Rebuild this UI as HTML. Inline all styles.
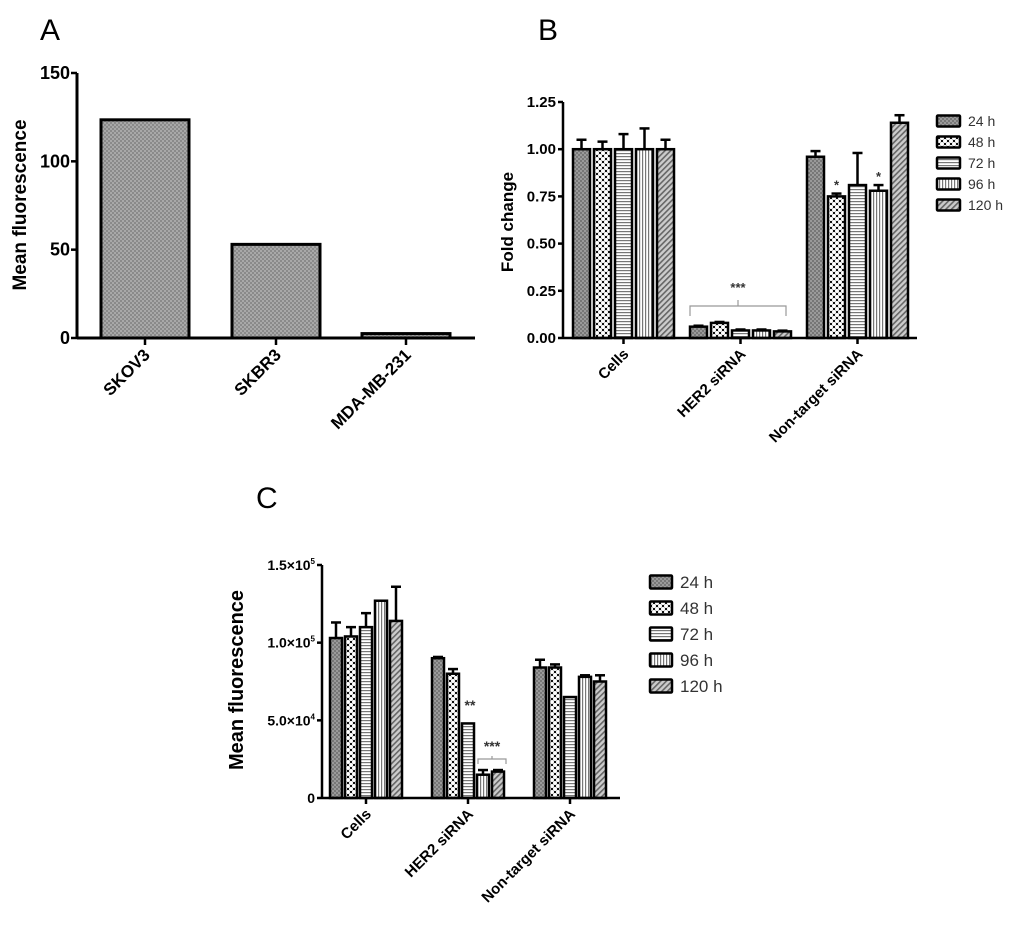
<!DOCTYPE html>
<html><head><meta charset="utf-8"><style>
html,body{margin:0;padding:0;background:#fff;}
svg{display:block;font-family:"Liberation Sans",Arial,sans-serif;}
</style></head><body>
<svg id="fig" width="1024" height="938" viewBox="0 0 1024 938" xmlns="http://www.w3.org/2000/svg">
<defs>
<pattern id="p24" width="4" height="4" patternUnits="userSpaceOnUse"><rect width="4" height="4" fill="#9a9a9a"/><rect width="2" height="2" fill="#777"/><rect x="2" y="2" width="2" height="2" fill="#777"/></pattern>
<pattern id="pA" width="4" height="4" patternUnits="userSpaceOnUse"><rect width="4" height="4" fill="#a8a8a8"/><rect width="2" height="2" fill="#8a8a8a"/><rect x="2" y="2" width="2" height="2" fill="#8a8a8a"/></pattern>
<pattern id="p48" width="6" height="6" patternUnits="userSpaceOnUse"><rect width="6" height="6" fill="#111"/><circle cx="3" cy="3" r="2" fill="#fff"/><circle cx="0" cy="0" r="2" fill="#fff"/><circle cx="6" cy="6" r="2" fill="#fff"/><circle cx="0" cy="6" r="2" fill="#fff"/><circle cx="6" cy="0" r="2" fill="#fff"/></pattern>
<pattern id="p72" width="4" height="3" patternUnits="userSpaceOnUse"><rect width="4" height="3" fill="#fff"/><rect y="0" width="4" height="1.2" fill="#777"/></pattern>
<pattern id="p96" width="3" height="4" patternUnits="userSpaceOnUse"><rect width="3" height="4" fill="#fff"/><rect x="0" width="1.2" height="4" fill="#777"/></pattern>
<pattern id="p120" width="4" height="4" patternUnits="userSpaceOnUse" patternTransform="rotate(45)"><rect width="4" height="4" fill="#ccc"/><rect width="1.6" height="4" fill="#666"/></pattern>
</defs>
<g id="layer"></g>
</svg>
<script>
const NS="http://www.w3.org/2000/svg";
const layer=document.getElementById('layer');
function mk(tag,attrs,parent,text){const e=document.createElementNS(NS,tag);for(const k in attrs)e.setAttribute(k,attrs[k]);if(text!==undefined)e.textContent=text;(parent||layer).appendChild(e);return e;}

// Panel A data
const aCategories=["SKOV3","SKBR3","MDA-MB-231"];
const aValues=[123.5,53,2.5];
const aTicks=[0,50,100,150];
const aTickLabels=["0","50","100","150"];

// Panel B data
const bCategories=["Cells","HER2 siRNA","Non-target siRNA"];
const seriesNames=["24 h","48 h","72 h","96 h","120 h"];
const bValues=[[1,1,1,1,1],[0.06,0.08,0.04,0.04,0.035],[0.96,0.75,0.81,0.78,1.14]];
const bErrors=[[0.05,0.04,0.08,0.11,0.05],[0.005,0.005,0.005,0.005,0.004],[0.03,0.015,0.17,0.03,0.04]];
const bTicks=[0,0.25,0.5,0.75,1.0,1.25];
const bTickLabels=["0.00","0.25","0.50","0.75","1.00","1.25"];

// Panel C data
const cCategories=["Cells","HER2 siRNA","Non-target siRNA"];
const cValues=[[103000,104000,110000,127000,114000],[90000,80000,48000,15000,17000],[84000,84000,65000,78000,75000]];
const cErrors=[[10000,6000,9000,0,22000],[800,3000,0,3000,1000],[5000,2000,0,1000,4000]];
const cTicks=[0,50000,100000,150000];
const cTickLabels=[["0",""],["5.0×10","4"],["1.0×10","5"],["1.5×10","5"]];

const pats=["p24","p48","p72","p96","p120"];

// ---------- Panel A ----------
(function(){
  const g=mk('g',{});
  
  
  const x0=77,x1=475,yb=338,yt=73,max=150;
  const y=v=>yb-(v/max)*(yb-yt);
  const cx=[145,276,406];
  const t=mk('text',{x:40,y:40,'font-size':30},g,'A');
  
  aValues.forEach((v,i)=>{
    const r=mk('rect',{x:cx[i]-44,y:y(v),width:88,height:yb-y(v),fill:'url(#pA)',stroke:'#000','stroke-width':3},g);
    
    
    const l=mk('text',{x:0,y:0,'font-size':17,'font-weight':'bold','text-anchor':'end',transform:`translate(${cx[i]+6},${yb+18}) rotate(-45)`},g,aCategories[i]);
    
    mk('line',{x1:cx[i],x2:cx[i],y1:yb,y2:yb+7,stroke:'#000','stroke-width':2.5},g);
  });
  mk('line',{x1:x0,x2:x0,y1:yt,y2:yb,stroke:'#000','stroke-width':3},g);
  mk('line',{x1:x0,x2:x1,y1:yb,y2:yb,stroke:'#000','stroke-width':3},g);
  aTicks.forEach((v,i)=>{
    mk('line',{x1:x0-6,x2:x0,y1:y(v),y2:y(v),stroke:'#000','stroke-width':2.5},g);
    const l=mk('text',{x:x0-7,y:y(v)+6,'font-size':18,'font-weight':'bold','text-anchor':'end'},g,aTickLabels[i]);
    
  });
  const yt2=mk('text',{x:0,y:0,'font-size':19,'font-weight':'bold','text-anchor':'middle',transform:'translate(26,205) rotate(-90)'},g,'Mean fluorescence');
  
})();

// ---------- grouped chart ----------
function grouped(opt){
  const g=mk('g',{});
  
  
  const y=v=>opt.yb-(v/opt.max)*(opt.yb-opt.yt);
  const lab=mk('text',{x:opt.labX,y:opt.labY,'font-size':30},g,opt.letter);
  
  opt.values.forEach((grp,gi)=>{
    grp.forEach((v,si)=>{
      const bx=opt.g0+gi*opt.gs+si*opt.bs;
      const cxb=bx+opt.bw/2;
      const e=opt.errors[gi][si];
      if(e>0){
        mk('line',{x1:cxb,x2:cxb,y1:y(v),y2:y(v+e),stroke:'#000','stroke-width':2.5},g);
        mk('line',{x1:cxb-5,x2:cxb+5,y1:y(v+e),y2:y(v+e),stroke:'#000','stroke-width':2.5},g);
      }
      const r=mk('rect',{x:bx,y:y(v),width:opt.bw,height:opt.yb-y(v),fill:`url(#${pats[si]})`,stroke:'#000','stroke-width':2.5},g);
      
      
    });
    const tx=opt.g0+gi*opt.gs+2*opt.bs+opt.bw/2;
    mk('line',{x1:tx,x2:tx,y1:opt.yb,y2:opt.yb+6,stroke:'#000','stroke-width':2.5},g);
    const l=mk('text',{x:0,y:0,'font-size':opt.xfs,'font-weight':'bold','text-anchor':'end',transform:`translate(${tx+6},${opt.yb+17}) rotate(-45)`},g,opt.cats[gi]);
    
  });
  mk('line',{x1:opt.x0,x2:opt.x0,y1:opt.yt,y2:opt.yb,stroke:'#000','stroke-width':2.5},g);
  mk('line',{x1:opt.x0,x2:opt.x1,y1:opt.yb,y2:opt.yb,stroke:'#000','stroke-width':2.5},g);
  opt.ticks.forEach((v,i)=>{
    mk('line',{x1:opt.x0-5,x2:opt.x0,y1:y(v),y2:y(v),stroke:'#000','stroke-width':2.5},g);
    const lbl=opt.tickLabels[i];
    const t=mk('text',{x:opt.x0-7,y:y(v)+5,'font-size':opt.tfs,'font-weight':'bold','text-anchor':'end'},g);
    
    if(Array.isArray(lbl)){mk('tspan',{},t,lbl[0]);if(lbl[1])mk('tspan',{'font-size':8,dy:-6},t,lbl[1]);}
    else t.textContent=lbl;
  });
  const yt=mk('text',{x:0,y:0,'font-size':opt.yfs,'font-weight':'bold','text-anchor':'middle',transform:`translate(${opt.ytX},${opt.ytY}) rotate(-90)`},g,opt.ytitle);
  
  seriesNames.forEach((s,i)=>{
    const ly=opt.legY+i*opt.legS;
    const r=mk('rect',{x:opt.legX,y:ly-opt.legH/2,width:opt.legW,height:opt.legH,fill:`url(#${pats[i]})`,stroke:'#000','stroke-width':2.5,rx:1},g);
    
    const t=mk('text',{x:opt.legX+opt.legW+8,y:ly+opt.lfs*0.36,'font-size':opt.lfs,fill:'#333'},g,s);
    
  });
  return {g,y};
}

const B=grouped({name:'panel-b',letter:'B',labX:538,labY:40,x0:563,x1:917,yb:338,yt:102,max:1.25,
  g0:573,gs:117,bs:21,bw:17,values:bValues,errors:bErrors,cats:bCategories,ticks:bTicks,tickLabels:bTickLabels,
  tfs:15,xfs:15,yfs:17,ytitle:'Fold change',ytX:513,ytY:222,legX:937,legY:121,legS:21,legW:23,legH:11,lfs:14});
(function(){
  const g=B.g;
  mk('path',{d:'M690,316 L690,306 L738,306 L738,300 M738,306 L786,306 L786,316',fill:'none',stroke:'#999','stroke-width':1.2},g);
  mk('text',{x:738,y:292,'font-size':13,'font-weight':'bold','text-anchor':'middle',fill:'#333'},g,'***');
  [[2,1],[2,3]].forEach(([gi,si])=>{
    const cx=573+gi*117+si*21+8.5;
    const t=mk('text',{x:cx,y:B.y(bValues[gi][si]+bErrors[gi][si])-4,'font-size':13,'font-weight':'bold','text-anchor':'middle',fill:'#333'},g,'*');
    
  });
})();

const C=grouped({name:'panel-c',letter:'C',labX:256,labY:508,x0:322,x1:620,yb:798,yt:565,max:150000,
  g0:330,gs:102,bs:15,bw:12,values:cValues,errors:cErrors,cats:cCategories,ticks:cTicks,tickLabels:cTickLabels,
  tfs:14,xfs:15,yfs:20,ytitle:'Mean fluorescence',ytX:243,ytY:680,legX:650,legY:582,legS:26,legW:22,legH:13,lfs:17});
(function(){
  const g=C.g;
  const t=mk('text',{x:470,y:710,'font-size':14,'font-weight':'bold','text-anchor':'middle',fill:'#333'},g,'**');
  
  mk('path',{d:'M478,764 L478,759 L492,759 L492,756 M492,759 L506,759 L506,764',fill:'none',stroke:'#999','stroke-width':1.2},g);
  mk('text',{x:492,y:751,'font-size':14,'font-weight':'bold','text-anchor':'middle',fill:'#333'},g,'***');
})();
</script>
</body></html>
